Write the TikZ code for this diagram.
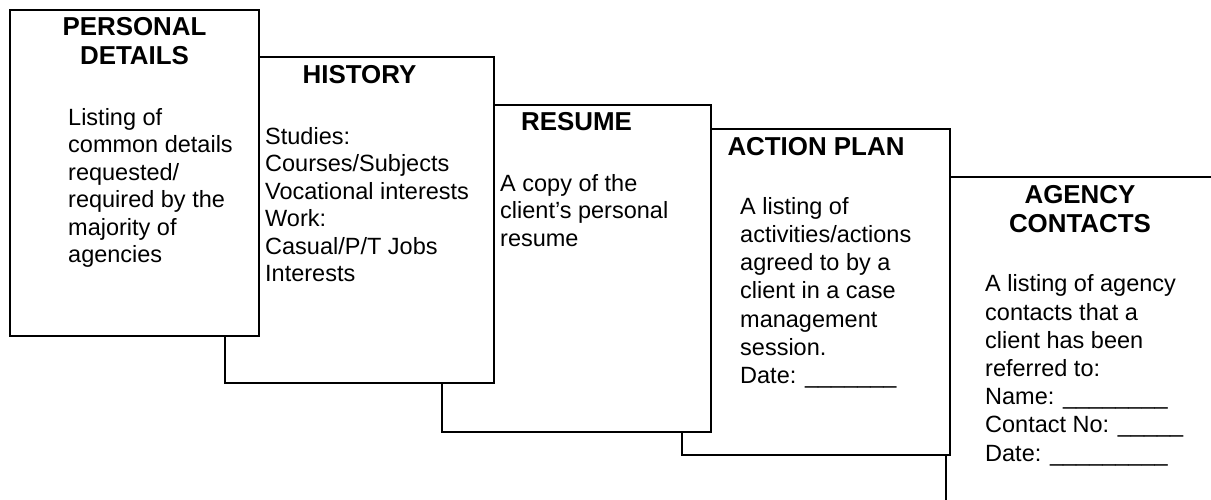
\documentclass[tikz,border=0pt]{standalone}
\usepackage{fontspec}
\setmainfont{Liberation Sans}
\begin{document}
\begin{tikzpicture}[x=1pt,y=-1pt,
  card/.style={draw=black, line width=2pt, fill=white, rectangle, inner sep=0pt, outer sep=0pt, anchor=north west},
  head/.style={font=\bfseries\fontsize{25.9}{29.2}\selectfont, align=center, inner sep=0pt, anchor=north},
  bodyA/.style={font=\fontsize{23.5}{27.5}\selectfont, align=left, inner sep=0pt, anchor=north west},
  bodyB/.style={font=\fontsize{23.5}{28.2}\selectfont, align=left, inner sep=0pt, anchor=north west}]
\useasboundingbox (0,0) rectangle (1211,500);
\clip (0,0) rectangle (1211,500);
\fill[white] (0,0) rectangle (1211,500);
% cards, back to front
\node[card, minimum width=268pt, minimum height=360pt] (c5) at (946,177) {};
\node[card, minimum width=268pt, minimum height=326pt] (c4) at (682,129) {};
\node[card, minimum width=269pt, minimum height=327pt] (c3) at (442,105) {};
\node[card, minimum width=269pt, minimum height=326pt] (c2) at (225,57) {};
\node[card, minimum width=249pt, minimum height=326pt] (c1) at (10,10) {};
% headings
\node[head] (h1) at (134.5,14.6) {\strut PERSONAL\\DETAILS};
\node[head] (h2) at (359.5,62.9) {\strut HISTORY};
\node[head] (h3) at (576.5,110.3) {\strut RESUME};
\node[head] (h4) at (816,134.6) {\strut ACTION PLAN};
\node[head] (h5) at (1080,182.9) {\strut AGENCY\\CONTACTS};
% bodies
\node[bodyA] (t1) at (68,105.6) {\strut Listing of\\common details\\requested/\\required by the\\majority of\\agencies};
\node[bodyA] (t2) at (265,124.9) {\strut Studies:\\Courses/Subjects\\Vocational interests\\Work:\\Casual/P/T Jobs\\Interests};
\node[bodyA] (t3) at (500,171.6) {\strut A copy of the\\client’s personal\\resume};
\node[bodyB] (t4) at (740,194.3) {\strut A listing of\\activities/actions\\agreed to by a\\client in a case\\management\\session.\\Date: \_\_\_\_\_\_\_};
\node[bodyB] (t5) at (985,271.9) {\strut A listing of agency\\contacts that a\\client has been\\referred to:\\Name: \_\_\_\_\_\_\_\_\\Contact No: \_\_\_\_\_\\Date: \_\_\_\_\_\_\_\_\_};
\end{tikzpicture}
\end{document}
